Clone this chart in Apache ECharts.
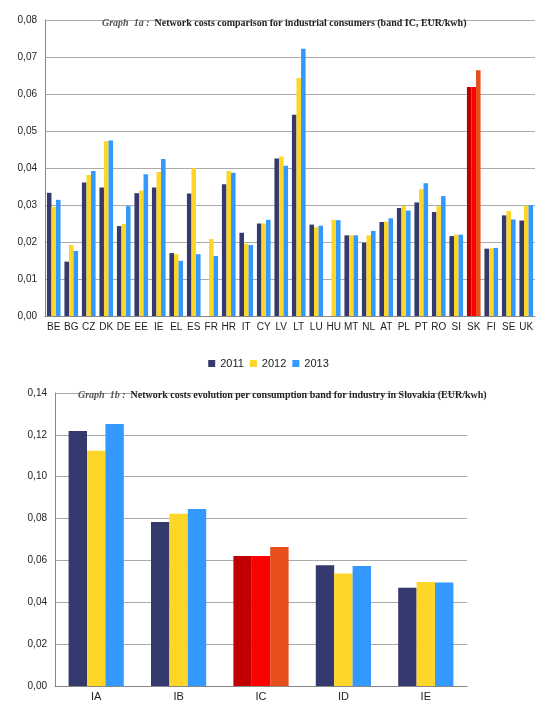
<!DOCTYPE html>
<html>
<head>
<meta charset="utf-8">
<script src="https://cdn.jsdelivr.net/npm/echarts@6/dist/echarts.min.js"></script>
<style>
  html, body { margin: 0; padding: 0; background: #fff; }
  #chart { width: 537px; height: 707px; }
</style>
</head>
<body>
<div id="chart"></div>
<script>
// graph 1a: countries, band IC
var countries = ['BE','BG','CZ','DK','DE','EE','IE','EL','ES','FR','HR','IT','CY','LV','LT','LU','HU','MT','NL','AT','PL','PT','RO','SI','SK','FI','SE','UK'];
var ic2011 = [0.0333,0.0147,0.0361,0.0347,0.0243,0.0332,0.0347,0.0170,0.0331,null,0.0356,0.0225,0.0250,0.0426,0.0544,0.0247,null,0.0218,0.0198,0.0254,0.0292,0.0307,0.0281,0.0216,0.0619,0.0182,0.0272,0.0258];
var ic2012 = [0.0295,0.0192,0.0381,0.0472,0.0249,0.0339,0.0389,0.0167,0.0399,0.0208,0.0392,0.0195,0.0250,0.0431,0.0643,0.0240,0.0260,0.0218,0.0218,0.0255,0.0297,0.0343,0.0297,0.0220,0.0619,0.0183,0.0284,0.0298];
var ic2013 = [0.0314,0.0176,0.0392,0.0474,0.0297,0.0383,0.0424,0.0149,0.0167,0.0162,0.0387,0.0192,0.0260,0.0406,0.0722,0.0244,0.0259,0.0218,0.0230,0.0264,0.0285,0.0359,0.0324,0.0220,0.0664,0.0184,0.0261,0.0300];

// graph 1b: Slovakia per band
var bands = ['IA','IB','IC','ID','IE'];
var sk2011 = [0.1218,0.0784,0.0621,0.0577,0.0470];
var sk2012 = [0.1124,0.0823,0.0621,0.0537,0.0497];
var sk2013 = [0.1252,0.0846,0.0664,0.0573,0.0494];

var years = ['2011','2012','2013'];
var colors = ['#353a6e','#fdd628','#3399ff'];
var redColors = ['#c00000','#ff0000','#e64f1b'];

// highlight Slovakia / IC bars in red tones
function mark(arr, idx, col) {
    return arr.map(function (v, i) {
        return i === idx ? { value: v, itemStyle: { color: col } } : v;
    });
}

var chart = echarts.init(document.getElementById('chart'), null, { renderer: 'canvas' });

var fmt = function (v) { return v.toFixed(2).replace('.', ','); };
var yBase = {
    type: 'value', min: 0,
    axisLine: { show: true, lineStyle: { color: '#888' } },
    axisTick: { show: false },
    axisLabel: { formatter: fmt, color: '#222', fontSize: 10, fontFamily: 'Liberation Sans' },
    splitLine: { lineStyle: { color: '#aaa', width: 1.2 } }
};
var xBase = {
    type: 'category',
    axisLine: { lineStyle: { color: '#888' } },
    axisTick: { show: false },
    axisLabel: { color: '#222', fontSize: 10, fontFamily: 'Liberation Sans', interval: 0, margin: 6 }
};
var titleRich = {
    it: { fontFamily: 'Liberation Serif', fontStyle: 'italic', fontSize: 10, color: '#555' },
    b: { fontFamily: 'Liberation Serif', fontWeight: 'bold', fontSize: 10, color: '#222' }
};

var series = [];
years.forEach(function (y, k) {
    var top = [ic2011, ic2012, ic2013][k];
    var bot = [sk2011, sk2012, sk2013][k];
    series.push({
        name: y, type: 'bar', xAxisIndex: 0, yAxisIndex: 0,
        data: mark(top, 24, redColors[k]),
        itemStyle: { color: colors[k] },
        barGap: '0%', barCategoryGap: '22%'
    });
    series.push({
        name: y, type: 'bar', xAxisIndex: 1, yAxisIndex: 1,
        data: mark(bot, 2, redColors[k]),
        itemStyle: { color: colors[k] },
        barGap: '0%', barCategoryGap: '33%'
    });
});

chart.setOption({
    animation: false,
    title: [
        { text: '{it|Graph  1a :} {b|Network costs comparison for industrial consumers (band IC, EUR/kwh)}',
          left: 97, top: 9, textStyle: { rich: titleRich } },
        { text: '{it|Graph  1b :} {b|Network costs evolution per consumption band for industry in Slovakia (EUR/kwh)}',
          left: 73, top: 381, textStyle: { rich: titleRich } }
    ],
    legend: {
        data: years, top: 353, left: 'center', icon: 'rect',
        itemWidth: 7, itemHeight: 7, itemGap: 6,
        textStyle: { fontSize: 11, color: '#222', fontFamily: 'Liberation Sans' }
    },
    grid: [
        { left: 45, right: 2, top: 20, height: 296 },
        { left: 55, right: 70, top: 393, height: 293 }
    ],
    xAxis: [
        Object.assign({}, xBase, { gridIndex: 0, data: countries }),
        Object.assign({}, xBase, { gridIndex: 1, data: bands,
            axisLabel: Object.assign({}, xBase.axisLabel, { fontSize: 11, margin: 5 }) })
    ],
    yAxis: [
        Object.assign({}, yBase, { gridIndex: 0, max: 0.08, interval: 0.01 }),
        Object.assign({}, yBase, { gridIndex: 1, max: 0.14, interval: 0.02 })
    ],
    series: series
});
</script>
</body>
</html>
